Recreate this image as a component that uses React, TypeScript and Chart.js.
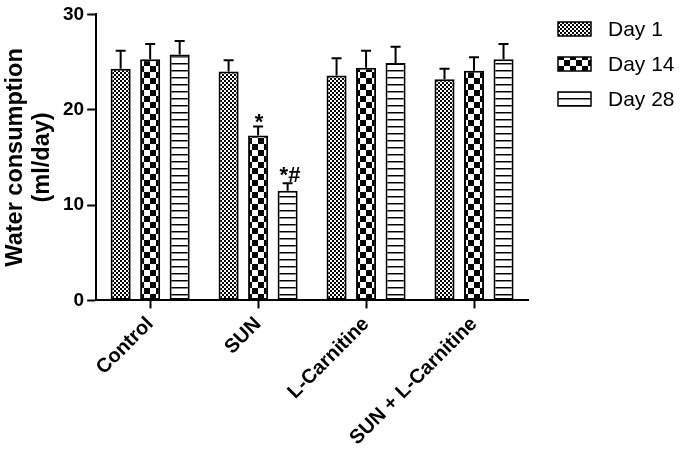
import React, { useEffect, useRef } from "react";
import { Chart, registerables } from "chart.js";

Chart.register(...registerables);

const categories = ["Control", "SUN", "L-Carnitine", "SUN + L-Carnitine"];
const seriesLabels = ["Day 1", "Day 14", "Day 28"];
const day1 = [24.3, 24.0, 23.6, 23.2];
const day1Err = [1.9, 1.2, 1.8, 1.1];
const day14 = [25.3, 17.3, 24.4, 24.1];
const day14Err = [1.6, 0.95, 1.8, 1.4];
const day28 = [25.8, 11.5, 24.9, 25.3];
const day28Err = [1.4, 0.8, 1.7, 1.6];
const day1Marks = ["", "", "", ""];
const day14Marks = ["", "*", "", ""];
const day28Marks = ["", "*#", "", ""];
const yTickValues = [0, 10, 20, 30];
const yTitle = ["Water consumption", "(ml/day)"];

const FONT = "'Liberation Sans', Arial, sans-serif";

function makePattern(kind: number): CanvasPattern | string {
  const c = document.createElement("canvas");
  const ctx = c.getContext("2d")!;
  if (kind === 0) {
    c.width = 4; c.height = 4;
    ctx.fillStyle = "#fff"; ctx.fillRect(0, 0, 4, 4);
    ctx.fillStyle = "#000";
    ctx.fillRect(0, 0, 2, 2); ctx.fillRect(2, 2, 2, 2);
  } else if (kind === 1) {
    c.width = 12; c.height = 12;
    ctx.fillStyle = "#fff"; ctx.fillRect(0, 0, 12, 12);
    ctx.fillStyle = "#000";
    ctx.fillRect(0, 0, 6, 6); ctx.fillRect(6, 6, 6, 6);
  } else {
    c.width = 8; c.height = 7;
    ctx.fillStyle = "#fff"; ctx.fillRect(0, 0, 8, 7);
    ctx.fillStyle = "#000"; ctx.fillRect(0, 0, 8, 1);
    ctx.fillStyle = "#888"; ctx.fillRect(0, 1, 8, 1);
  }
  return ctx.createPattern(c, "repeat") || "#999";
}

export default function App() {
  const ref = useRef<HTMLCanvasElement>(null);

  useEffect(() => {
    document.body.style.margin = "0";
    const canvas = ref.current!;
    const patterns = [makePattern(0), makePattern(1), makePattern(2)];
    const errs = [day1Err, day14Err, day28Err];
    const marks = [day1Marks, day14Marks, day28Marks];

    const errorPlugin = {
      id: "errbars",
      afterDatasetsDraw(chart: any) {
        const ctx = chart.ctx;
        const yScale = chart.scales.y;
        ctx.save();
        chart.data.datasets.forEach((ds: any, di: number) => {
          const meta = chart.getDatasetMeta(di);
          meta.data.forEach((bar: any, i: number) => {
            const v = ds.data[i];
            const top = yScale.getPixelForValue(v + errs[di][i]);
            ctx.strokeStyle = "#000";
            ctx.lineWidth = 2;
            ctx.beginPath();
            ctx.moveTo(bar.x, bar.y);
            ctx.lineTo(bar.x, top);
            ctx.moveTo(bar.x - 5, top);
            ctx.lineTo(bar.x + 5, top);
            ctx.stroke();
            const m = marks[di][i];
            if (m) {
              ctx.fillStyle = "#000";
              ctx.font = `bold 22px ${FONT}`;
              ctx.textAlign = m.length > 1 ? "left" : "center";
              ctx.textBaseline = "alphabetic";
              const tx = m.length > 1 ? bar.x - 8 : bar.x + 1;
              ctx.fillText(m, tx, top + (m.length > 1 ? -1 : 3));
            }
          });
        });
        ctx.restore();
      },
    };

    const legendPlugin = {
      id: "customLegend",
      afterDraw(chart: any) {
        const ctx = chart.ctx;
        const x0 = chart.chartArea.right + 30;
        ctx.save();
        chart.data.datasets.forEach((ds: any, di: number) => {
          const cy = 29 + di * 35;
          ctx.fillStyle = ds.backgroundColor;
          ctx.fillRect(x0, cy - 7, 33, 14);
          ctx.strokeStyle = "#000";
          ctx.lineWidth = 1.5;
          ctx.strokeRect(x0, cy - 7, 33, 14);
          ctx.fillStyle = "#000";
          ctx.font = `21px ${FONT}`;
          ctx.textAlign = "left";
          ctx.textBaseline = "middle";
          ctx.fillText(ds.label, x0 + 50, cy + 1);
        });
        ctx.restore();
      },
    };

    const chart = new Chart(canvas, {
      type: "bar",
      data: {
        labels: categories,
        datasets: [day1, day14, day28].map((d, i) => ({
          label: seriesLabels[i],
          data: d,
          backgroundColor: patterns[i] as any,
          borderColor: "#000",
          borderWidth: 2,
          borderSkipped: false,
          categoryPercentage: 0.82,
          barPercentage: 0.68,
        })),
      },
      options: {
        animation: false,
        responsive: false,
        devicePixelRatio: 1,
        layout: { padding: { left: 2, right: 157, top: 13, bottom: 8 } },
        plugins: { legend: { display: false }, tooltip: { enabled: false } },
        scales: {
          x: {
            offset: true,
            grid: { display: true, drawOnChartArea: false, offset: false, tickLength: 8, tickWidth: 2, color: "#000" },
            border: { display: true, color: "#000", width: 2 },
            ticks: {
              color: "#000",
              font: { family: FONT, size: 20, weight: "bold" },
              minRotation: 45,
              maxRotation: 45,
              autoSkip: false,
              padding: 4,
            },
          },
          y: {
            min: 0,
            max: 30,
            afterBuildTicks: (axis: any) => {
              axis.ticks = yTickValues.map((v) => ({ value: v }));
            },
            grid: { display: true, drawOnChartArea: false, tickLength: 9, tickWidth: 2, color: "#000" },
            border: { display: true, color: "#000", width: 2 },
            ticks: {
              color: "#000",
              font: { family: FONT, size: 19, weight: "bold" },
              padding: 3,
            },
            title: {
              display: true,
              text: yTitle,
              color: "#000",
              font: { family: FONT, size: 23.5, weight: "bold", lineHeight: 1.15 },
              padding: { top: 0, bottom: 4 },
            },
          },
        },
      },
      plugins: [errorPlugin, legendPlugin],
    });
    return () => chart.destroy();
  }, []);

  return <canvas ref={ref} width={685} height={462} style={{ display: "block" }} />;
}
